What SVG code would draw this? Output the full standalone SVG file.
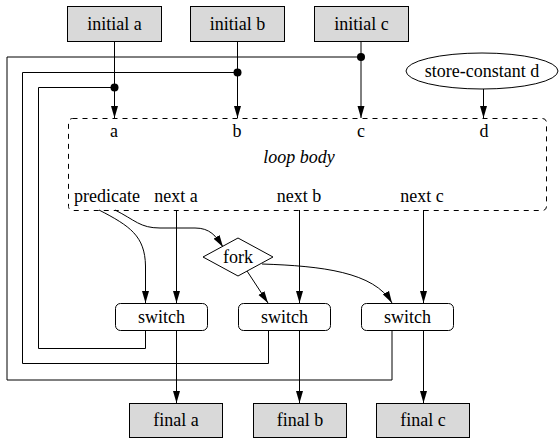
<svg xmlns="http://www.w3.org/2000/svg" width="560" height="440" viewBox="0 0 560 440">
  <style>
    text { font-family: 'Liberation Serif', 'Times New Roman', Times, 'DejaVu Serif', serif; font-size: 18px; fill: #000; text-anchor: middle; }
    .ital { font-style: italic; }
    .box { fill: #d9d9d9; stroke: #000; stroke-width: 1; }
    .sw { fill: #fff; stroke: #000; stroke-width: 1; }
    .edge { fill: none; stroke: #000; stroke-width: 1; }
    .arr { marker-end: url(#head); }
    .dot { fill: #000; }
  </style>
  <defs>
    <marker id="head" viewBox="0 0 12 8" refX="12" refY="4" markerWidth="12" markerHeight="8" markerUnits="userSpaceOnUse" orient="auto">
      <path d="M0,0.5 L12,4 L0,7.5 Z" fill="#000"/>
    </marker>
  </defs>

  <!-- loop body cluster -->
  <g id="loop-body">
    <rect x="68.5" y="118.5" width="478" height="92" rx="4" fill="none" stroke="#000" stroke-dasharray="5,5"/>
    <text x="114" y="137">a</text>
    <text x="237" y="137">b</text>
    <text x="361" y="137">c</text>
    <text x="484" y="137">d</text>
    <text class="ital" x="299" y="163">loop body</text>
    <text x="107" y="202">predicate</text>
    <text x="176" y="202">next a</text>
    <text x="299" y="202">next b</text>
    <text x="422" y="202">next c</text>
  </g>

  <!-- connectors -->
  <g id="connectors">
    <!-- initial values into loop body -->
    <line class="edge arr" x1="114.5" y1="42" x2="114.5" y2="118"/>
    <line class="edge arr" x1="237.5" y1="42" x2="237.5" y2="118"/>
    <line class="edge arr" x1="361" y1="42" x2="361" y2="118"/>
    <line class="edge arr" x1="483.5" y1="89" x2="483.5" y2="118"/>

    <!-- loop-back wires from switches -->
    <polyline class="edge" points="145.5,330 145.5,348.5 38.5,348.5 38.5,87.5 114.5,87.5"/>
    <polyline class="edge" points="268.5,330 268.5,363.5 22.5,363.5 22.5,72.5 237.5,72.5"/>
    <polyline class="edge" points="392,330 392,380 7,380 7,57 361,57"/>
    <circle class="dot" cx="114.5" cy="87.5" r="4"/>
    <circle class="dot" cx="237.5" cy="72.5" r="4"/>
    <circle class="dot" cx="361" cy="57" r="4"/>

    <!-- predicate -->
    <path class="edge arr" d="M99,210 C130,226 145,236 145.5,266 L145.5,303"/>
    <path class="edge arr" d="M115,210 C135,220 140,228 160,228 L195,228 C210,228 216,236 223,247"/>
    <!-- next values -->
    <line class="edge arr" x1="176.5" y1="210" x2="176.5" y2="303"/>
    <line class="edge arr" x1="299.5" y1="210" x2="299.5" y2="303"/>
    <line class="edge arr" x1="423.5" y1="210" x2="423.5" y2="303"/>
    <!-- fork outputs -->
    <line class="edge arr" x1="247" y1="271" x2="268" y2="303"/>
    <path class="edge arr" d="M262,264 C322,266 374,272 392,303"/>

    <!-- switches to finals -->
    <line class="edge arr" x1="176.5" y1="330" x2="176.5" y2="403"/>
    <line class="edge arr" x1="299.5" y1="330" x2="299.5" y2="403"/>
    <line class="edge arr" x1="423.5" y1="330" x2="423.5" y2="403"/>
  </g>

  <!-- initial values -->
  <g id="initial-a">
    <rect class="box" x="67.5" y="6.5" width="94" height="35"/>
    <text x="114.5" y="30">initial a</text>
  </g>
  <g id="initial-b">
    <rect class="box" x="190.5" y="6.5" width="94" height="35"/>
    <text x="237.5" y="30">initial b</text>
  </g>
  <g id="initial-c">
    <rect class="box" x="314.5" y="6.5" width="94" height="35"/>
    <text x="361.5" y="30">initial c</text>
  </g>
  <g id="store-constant-d">
    <ellipse cx="482" cy="71" rx="76" ry="18" fill="#fff" stroke="#000"/>
    <text x="482" y="77">store-constant d</text>
  </g>

  <!-- fork -->
  <g id="fork">
    <polygon points="203,257 238,238 273,257 238,276" fill="#fff" stroke="#000"/>
    <text x="238" y="263">fork</text>
  </g>

  <!-- switches -->
  <g id="switch-a">
    <rect class="sw" x="115.5" y="303.5" width="92" height="27" rx="5"/>
    <text x="161.5" y="323">switch</text>
  </g>
  <g id="switch-b">
    <rect class="sw" x="238.5" y="303.5" width="92" height="27" rx="5"/>
    <text x="284.5" y="323">switch</text>
  </g>
  <g id="switch-c">
    <rect class="sw" x="361.5" y="303.5" width="92" height="27" rx="5"/>
    <text x="407.5" y="323">switch</text>
  </g>

  <!-- final values -->
  <g id="final-a">
    <rect class="box" x="129.5" y="403.5" width="93" height="34"/>
    <text x="176" y="426">final a</text>
  </g>
  <g id="final-b">
    <rect class="box" x="253.5" y="403.5" width="93" height="34"/>
    <text x="300" y="426">final b</text>
  </g>
  <g id="final-c">
    <rect class="box" x="376.5" y="403.5" width="93" height="34"/>
    <text x="423" y="426">final c</text>
  </g>
</svg>
